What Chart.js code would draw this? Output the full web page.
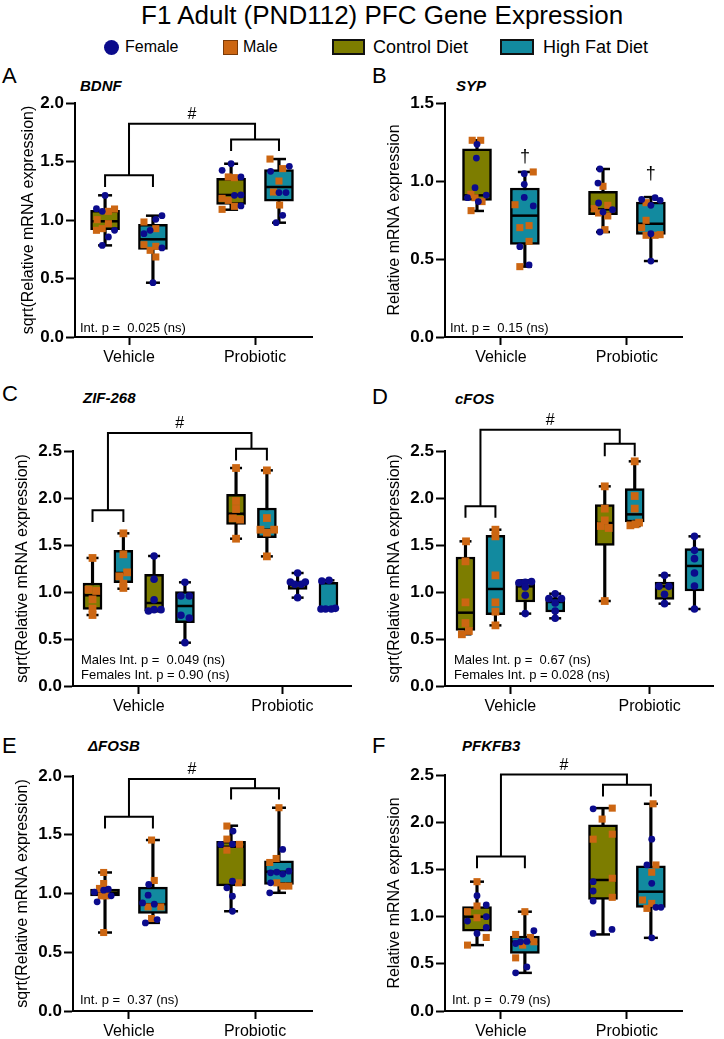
<!DOCTYPE html>
<html>
<head>
<meta charset="utf-8">
<script src="https://cdn.jsdelivr.net/npm/chart.js@4.4.0/dist/chart.umd.min.js"></script>
<style>
  body { margin: 0; width: 724px; height: 1039px; background: #fff; position: relative; overflow: hidden;
         font-family: "Liberation Sans", Arial, sans-serif; color: #000; }
  .abs { position: absolute; white-space: nowrap; line-height: 1; transform: translateY(-50%); }
  .panel { position: absolute; }
  .letter { font-size: 22px; }
  .gene { font-size: 15px; font-weight: bold; font-style: italic; }
  .sw { position: absolute; box-sizing: border-box; }
</style>
</head>
<body>
<div class="abs" style="left:141px;top:15px;font-size:26px;">F1 Adult (PND112) PFC Gene Expression</div>

<div class="sw" style="left:104px;top:40px;width:15px;height:15px;border-radius:50%;background:#0b0b8c;"></div>
<div class="abs" style="left:125px;top:47px;font-size:16px;">Female</div>
<div class="sw" style="left:223px;top:40px;width:15px;height:15px;background:#cc6612;border:1px solid #7a3a08;"></div>
<div class="abs" style="left:243px;top:47px;font-size:16px;">Male</div>
<div class="sw" style="left:332px;top:39px;width:33px;height:16px;background:#7d7d00;border:2px solid #111;"></div>
<div class="abs" style="left:373px;top:47px;font-size:18px;">Control Diet</div>
<div class="sw" style="left:500px;top:39px;width:34px;height:16px;background:#128a9f;border:2px solid #111;"></div>
<div class="abs" style="left:543px;top:47px;font-size:18px;">High Fat Diet</div>

<div class="abs letter" style="left:2px;top:76px;">A</div>
<div class="abs gene" style="left:80px;top:85px;">BDNF</div>
<div class="abs letter" style="left:372px;top:76px;">B</div>
<div class="abs gene" style="left:456px;top:85px;">SYP</div>
<div class="abs letter" style="left:2px;top:394px;">C</div>
<div class="abs gene" style="left:83px;top:397px;">ZIF-268</div>
<div class="abs letter" style="left:372px;top:397px;">D</div>
<div class="abs gene" style="left:455px;top:398px;">cFOS</div>
<div class="abs letter" style="left:2px;top:746px;">E</div>
<div class="abs gene" style="left:88px;top:745px;">ΔFOSB</div>
<div class="abs letter" style="left:372px;top:746px;">F</div>
<div class="abs gene" style="left:462px;top:745px;">PFKFB3</div>

<div class="panel" style="left:0px;top:60px;width:362px;height:320px;"><canvas id="cA"></canvas></div>
<div class="panel" style="left:362px;top:60px;width:362px;height:320px;"><canvas id="cB"></canvas></div>
<div class="panel" style="left:0px;top:380px;width:362px;height:340px;"><canvas id="cC"></canvas></div>
<div class="panel" style="left:362px;top:380px;width:362px;height:340px;"><canvas id="cD"></canvas></div>
<div class="panel" style="left:0px;top:720px;width:362px;height:319px;"><canvas id="cE"></canvas></div>
<div class="panel" style="left:362px;top:720px;width:362px;height:319px;"><canvas id="cF"></canvas></div>

<script>
const groups = ['Vehicle', 'Probiotic'];

// box stats per box: [min, q1, median, q3, max]
// box order (A,B,E,F): Veh control, Veh HFD, Pro control, Pro HFD
// box order (C,D): Veh ctrl M, Veh HFD M, Veh ctrl F, Veh HFD F, then same for Probiotic

// A - BDNF
const bdnfBox = [[0.783,0.917,0.989,1.083,1.211],[0.464,0.749,0.835,0.963,1.037],[1.088,1.134,1.214,1.356,1.481],[0.977,1.160,1.282,1.430,1.521]];
const bdnfVals = [
  [1.21,1.097,1.074,1.074,1.094,1.003,0.969,0.912,0.926,0.912,0.855,0.783],
  [1.037,1.006,0.983,0.912,0.926,0.883,0.789,0.775,0.741,0.761,0.684,0.464],
  [1.481,1.425,1.368,1.362,1.368,1.185,1.168,1.211,1.214,1.117,1.12,1.091],
  [1.521,1.416,1.439,1.459,1.333,1.239,1.234,1.234,1.128,1.04,0.977]];
const bdnfSex = ['FFFMMMMMMFFF','FFMFMFMMMFMF','FFMMFMMFFMFM','MFMFMMFFMFF'];
const bdnfJit = [
  [0,-0.7,-0.23,0.27,0.77,-0.64,0.27,-0.7,-0.23,0.77,0.27,-0.23],
  [0.73,0.23,-0.73,-0.23,0.23,-0.73,-0.73,0.23,-0.23,0.73,0.23,0],
  [0,-0.73,-0.23,0.27,0.8,-0.73,-0.23,0.27,0.8,0.27,0.8,-0.73],
  [-0.73,-0.68,0.3,0.84,0,-0.45,0,0.57,0.05,0.3,-0.23]];

// B - SYP
const sypBox = [[0.808,0.876,0.908,1.207,1.261],[0.451,0.594,0.778,0.955,1.058],[0.673,0.784,0.818,0.934,1.077],[0.487,0.658,0.726,0.865,0.897]];
const sypVals = [
  [1.261,1.261,1.235,1.147,0.957,0.915,0.893,0.893,0.91,0.868,0.868,0.81],
  [1.058,1.047,0.979,0.895,0.848,0.84,0.701,0.714,0.613,0.579,0.462,0.451],
  [1.077,0.987,0.966,0.859,0.844,0.823,0.801,0.795,0.816,0.776,0.688,0.673],
  [0.882,0.893,0.876,0.861,0.844,0.748,0.701,0.662,0.652,0.652,0.656,0.487]];
const sypSex = ['MMFFFMFMFFMM','MFFFMFMMMFFM','FFMFMMFMFMMF','FFFMFMMFMMMF'];
const sypJit = [
  [-0.39,0.3,0,-0.05,-0.16,-0.5,-0.77,-0.16,0.75,0.11,0.41,-0.48],
  [0.68,-0.05,-0.05,-0.05,-0.8,0.68,-0.41,0.34,0.34,-0.41,0.34,-0.41],
  [-0.25,-0.41,0,-0.36,0.39,-0.7,0,-0.36,0.77,0.39,0.16,-0.25],
  [-0.75,0.34,0.75,-0.39,0,-0.39,-0.75,0,-0.39,0.34,0.75,0]];
const sypDagger = [null, 1.154, null, 1.047];

// C - ZIF-268
const zifBox = [[0.755,0.816,0.965,1.096,1.362],[1.035,1.099,1.202,1.443,1.624],[0.795,0.795,0.883,1.188,1.383],[0.461,0.674,0.851,1.004,1.103],
                [1.567,1.72,1.833,2.039,2.319],[1.379,1.578,1.663,1.894,2.294],[0.94,1.028,1.078,1.113,1.202],[0.819,0.823,0.823,1.103,1.124]];
const zifVals = [
  [1.362,1.025,1.011,0.922,0.823,0.755],[1.624,1.401,1.209,1.167,1.089,1.043],
  [1.383,1.135,0.918,0.798,0.812,0.812],[1.103,0.957,0.957,0.752,0.723,0.461],
  [2.319,1.968,1.883,1.784,1.77,1.567],[2.294,1.787,1.663,1.663,1.631,1.379],
  [1.202,1.106,1.082,1.082,1.106,0.94],[1.117,1.124,0.819,0.819,0.819,0.826]];
const zifSex = ['MMMMMM','MMMMMM','FFFFFF','FFFFFF','MMMMMM','MMMMMM','FFFFFF','FFFFFF'];
const zifJit = [[0,-0.5,0.46,0,0,0],[0,0,0.46,-0.5,0,0],[0,0,0,-0.7,0,0.86],[0,-0.5,0.54,-0.5,0.54,0],
                [0,0,0,-0.4,0.5,0],[0,0,-0.8,0.9,0,0],[0,-0.9,-0.36,0.46,0.96,0],[-0.82,0.07,-0.93,-0.36,0.36,0.86]];

// D - cFOS
const cfosBox = [[0.55,0.592,0.78,1.372,1.539],[0.645,0.759,1.032,1.603,1.663],[0.77,0.894,1.06,1.106,1.124],[0.72,0.787,0.894,0.94,0.982],
                 [0.904,1.496,1.734,1.929,2.124],[1.702,1.745,1.826,2.099,2.39],[0.876,0.922,1.06,1.106,1.177],[0.819,1.011,1.277,1.461,1.592]];
const cfosVals = [
  [1.539,1.326,0.89,0.67,0.585,0.55],[1.663,1.592,1.177,0.89,0.791,0.645],
  [1.099,1.11,1.103,1.053,0.965,0.77],[0.982,0.929,0.929,0.883,0.798,0.72],
  [2.124,1.887,1.762,1.702,1.681,0.904],[2.39,2.021,1.887,1.709,1.738,1.72],
  [1.177,1.06,1.06,0.975,0.876],[1.592,1.443,1.355,1.202,1.064,0.819]];
const cfosSex = ['MMMMMM','MMMMMM','FFFFFF','FFFFFF','MMMMMM','MMMMMM','FFFFF','FFFFFF'];
const cfosJit = [[0.07,0,0,0,0.43,-0.46],[0,0,0,0,0,0],[-0.8,0.8,0,0,0,0],[0,-0.8,0.8,0,0,0],
                 [0,0,0,-0.5,0.5,0],[0,0,0,-0.55,0.55,0.1],[0,-0.7,0.55,0,0],[0,0,0,0,0,0]];

// E - deltaFOSB
const fosbBox = [[0.668,0.98,1.006,1.037,1.179],[0.75,0.83,0.909,1.054,1.455],[0.849,1.065,1.398,1.443,1.577],[1.006,1.077,1.185,1.278,1.73]];
const fosbVals = [
  [1.179,1.085,1.043,1.011,1.028,1.037,0.929,0.98,0.98,0.98,0.668],
  [1.455,1.111,1.077,0.986,0.92,0.909,0.886,0.886,0.787,0.778,0.75],
  [1.574,1.531,1.463,1.418,1.369,1.418,1.42,1.105,1.091,1.048,0.977,0.849],
  [1.73,1.375,1.298,1.264,1.176,1.182,1.165,1.19,1.091,1.091,1.063,1.063,1.006]];
const fosbSex = ['MMMFFFFMMFM','MMFFFFMMMFF','MFMFMMFFMFFF','MFMMFFFFFMMMF'];
const fosbJit = [
  [-0.11,-0.11,-0.45,-0.86,-0.11,0.27,-0.64,-0.3,0.09,0.5,-0.11],
  [-0.11,0.11,-0.34,-0.39,-0.84,0.11,-0.39,0.64,-0.11,0.34,-0.61],
  [-0.34,0.16,-0.34,-0.84,-0.34,0.68,0.11,0.11,0.61,-0.34,0.11,0.11],
  [0,0.3,-0.23,-0.75,-0.68,-0.18,0.3,0.8,-0.68,-0.18,0.3,0.8,-0.75]];

// F - PFKFB3
const pfkBox = [[0.698,0.846,0.999,1.105,1.37],[0.404,0.609,0.733,0.793,1.052],[0.811,1.183,1.388,1.972,2.149],[0.775,1.098,1.264,1.537,2.195]];
const pfkVals = [
  [1.37,1.222,1.112,1.123,1.052,0.988,0.999,0.953,0.885,0.822,0.779,0.698],
  [1.052,0.85,0.811,0.779,0.715,0.733,0.737,0.698,0.733,0.563,0.467,0.404],
  [2.142,2.149,2.033,1.873,1.82,1.37,1.406,1.271,1.165,1.204,0.864,0.822],
  [2.195,1.82,1.547,1.547,1.47,1.353,1.176,1.14,1.087,1.098,1.098,0.775]];
const pfkSex = ['MFMFMMFFFFMM','MFMMFFFMMMFF','FMMMMFMFFMFF','MFFMMFMMMFFF'];
const pfkJit = [
  [0,0,0,0.75,-0.77,0,0.75,-0.77,0.75,0,0.75,-0.77],
  [0,0.73,-0.75,0.45,-0.75,-0.36,0.16,-0.18,0.73,-0.75,0.16,-0.75],
  [-0.8,0.75,-0.07,0.75,-0.8,-0.8,0.75,-0.8,-0.8,0.75,0.73,-0.8],
  [0.18,0.07,-0.32,0.41,0.07,0.07,-0.68,0.07,-0.32,0.41,0.82,0.07]];

// significance brackets: [box i, box j, bar y, leg y], then top y
const bdnfBrk = [[0,1,1.382,1.282],[2,3,1.689,1.59]], bdnfTop = 1.823;
const zifBrk = [[0,1,1.869,1.745],[4,5,2.525,2.40]], zifTop = 2.691;
const cfosBrk = [[0,1,1.911,1.791],[4,5,2.578,2.443]], cfosTop = 2.727;
const fosbBrk = [[0,1,1.653,1.554],[2,3,1.895,1.801]], fosbTop = 1.974;
const pfkBrk = [[0,1,1.636,1.512],[2,3,2.397,2.273]], pfkTop = 2.504;

const ctrlColor = '#7d7d00', hfdColor = '#128a9f', femColor = '#0b0b8c', maleColor = '#cc6612';
const pos2 = [-0.19, 0.19, 0.81, 1.19];
const pos4 = [-0.322, -0.107, 0.107, 0.322, 0.678, 0.893, 1.107, 1.322];

Chart.defaults.font.family = '"Liberation Sans", Arial, sans-serif';
Chart.defaults.color = '#000';

const annot = {
  id: 'annot',
  afterDraw(chart, args, o) {
    const {ctx, chartArea} = chart;
    const xs = chart.scales.x, ys = chart.scales.y;
    const px = v => xs.getPixelForValue(v), py = v => ys.getPixelForValue(v);
    ctx.save();
    ctx.strokeStyle = '#000'; ctx.fillStyle = '#000'; ctx.lineWidth = 2;
    ctx.lineJoin = 'miter'; ctx.lineCap = 'butt';
    if (o.brk) {
      const mids = [];
      o.brk.forEach(b => {
        const a = o.pos[b[0]], c = o.pos[b[1]];
        ctx.beginPath();
        ctx.moveTo(px(a), py(b[3])); ctx.lineTo(px(a), py(b[2]));
        ctx.lineTo(px(c), py(b[2])); ctx.lineTo(px(c), py(b[3]));
        ctx.stroke();
        mids.push([(a + c) / 2, b[2]]);
      });
      ctx.beginPath();
      ctx.moveTo(px(mids[0][0]), py(mids[0][1])); ctx.lineTo(px(mids[0][0]), py(o.top));
      ctx.lineTo(px(mids[1][0]), py(o.top)); ctx.lineTo(px(mids[1][0]), py(mids[1][1]));
      ctx.stroke();
      ctx.font = '16px "Liberation Sans", Arial, sans-serif';
      ctx.textAlign = 'center'; ctx.textBaseline = 'middle';
      ctx.fillText('#', (px(mids[0][0]) + px(mids[1][0])) / 2, py(o.top) - 9);
    }
    if (o.dagger) {
      ctx.font = '18px "Liberation Sans", Arial, sans-serif';
      ctx.textAlign = 'center'; ctx.textBaseline = 'middle';
      o.dagger.forEach((d, i) => { if (d != null) ctx.fillText('†', px(o.pos[i]), py(d)); });
    }
    ctx.font = '13px "Liberation Sans", Arial, sans-serif';
    ctx.textAlign = 'left'; ctx.textBaseline = 'middle';
    o.stats.forEach((s, i) => {
      ctx.fillText(s, chartArea.left + o.sx, chartArea.bottom - o.sy - (o.stats.length - 1 - i) * 15);
    });
    ctx.restore();
  }
};

function makePanel(id, cfg) {
  const [cl, ct, cw, ch] = cfg.canvas;
  const [pl, pt, pr, pb] = cfg.plot;
  const pxPerUnit = (pr - pl) / (cfg.xmax - cfg.xmin);
  const half = cfg.bw / 2 / pxPerUnit;
  const pos = cfg.pos;
  const boxColors = pos.map((p, i) => i % 2 === 0 ? ctrlColor : hfdColor);
  const caps = [], meds = [], fem = [], male = [];
  cfg.box.forEach((b, i) => {
    caps.push({x: pos[i], y: b[0]}, {x: pos[i], y: b[4]});
    meds.push({x: pos[i], y: b[2]});
    cfg.vals[i].forEach((v, k) => {
      const pt = {x: pos[i] + cfg.jit[i][k] * half * 0.85, y: v};
      (cfg.sex[i][k] === 'F' ? fem : male).push(pt);
    });
  });
  new Chart(document.getElementById(id), {
    type: 'bar',
    data: {
      datasets: [
        {type: 'bar', data: cfg.box.map((b, i) => ({x: pos[i], y: [b[0], b[4]]})), backgroundColor: '#000',
         barThickness: 2.5, grouped: false, order: 5, clip: false},
        {type: 'bar', data: cfg.box.map((b, i) => ({x: pos[i], y: [b[1], b[3]]})), backgroundColor: boxColors,
         borderColor: '#000', borderWidth: 2.5, borderSkipped: false, barThickness: cfg.bw, grouped: false, order: 4, clip: false},
        {type: 'scatter', data: caps, pointStyle: 'line', pointRadius: cfg.cap, borderColor: '#000', borderWidth: 2.5, order: 3, clip: false},
        {type: 'scatter', data: meds, pointStyle: 'line', pointRadius: cfg.bw / 2 - 1, borderColor: '#000', borderWidth: 2.5, order: 2, clip: false},
        {type: 'scatter', data: male, pointStyle: 'rect', pointRadius: cfg.ms, backgroundColor: maleColor, borderWidth: 0, order: 1, clip: false},
        {type: 'scatter', data: fem, pointStyle: 'circle', pointRadius: cfg.fs, backgroundColor: femColor, borderWidth: 0, order: 0, clip: false}
      ]
    },
    options: {
      responsive: true, maintainAspectRatio: false, animation: false, events: [],
      layout: {padding: {left: 0, top: pt - ct, right: cl + cw - pr, bottom: 0}},
      plugins: {legend: {display: false}, tooltip: {enabled: false},
        annot: {pos: pos, brk: cfg.brk, top: cfg.top, dagger: cfg.dagger, stats: cfg.stats, sx: cfg.sx, sy: cfg.sy}},
      scales: {
        x: {
          type: 'linear', min: cfg.xmin, max: cfg.xmax, offset: false,
          afterBuildTicks: s => { s.ticks = [{value: 0}, {value: 1}]; },
          afterFit: s => { s.height = ct + ch - pb; },
          ticks: {callback: (v, i) => groups[i], font: {size: 16}, color: '#000', padding: 3, autoSkip: false, maxRotation: 0},
          grid: {offset: false, drawOnChartArea: false, drawTicks: true, tickLength: 8, tickWidth: 2, tickColor: '#000'},
          border: {color: '#000', width: 2}
        },
        y: {
          min: 0, max: cfg.ymax,
          afterFit: s => { s.width = pl - cl; },
          ticks: {stepSize: 0.5, callback: v => v.toFixed(1), font: {size: 17, weight: 'bold'}, color: '#000', padding: 2},
          grid: {drawOnChartArea: false, drawTicks: true, tickLength: 9, tickWidth: 2, tickColor: '#000'},
          border: {color: '#000', width: 2},
          title: {display: true, text: cfg.ytitle, font: {size: 16}, color: '#000', padding: {top: cfg.tpad, bottom: 0}}
        }
      }
    },
    plugins: [annot]
  });
}

const sqrtTitle = 'sqrt(Relative mRNA expression)', relTitle = 'Relative mRNA expression';

makePanel('cA', {canvas: [0, 60, 362, 320], plot: [75, 103, 312, 337], xmin: -0.4286, xmax: 1.452, ymax: 2,
  box: bdnfBox, vals: bdnfVals, sex: bdnfSex, jit: bdnfJit, pos: pos2, bw: 29, cap: 7, ms: 5, fs: 3.4,
  brk: bdnfBrk, top: bdnfTop, stats: ['Int. p =  0.025 (ns)'], sx: 5, sy: 9, ytitle: sqrtTitle, tpad: 19});
makePanel('cB', {canvas: [362, 60, 362, 320], plot: [445, 103, 682, 337], xmin: -0.444, xmax: 1.437, ymax: 1.5,
  box: sypBox, vals: sypVals, sex: sypSex, jit: sypJit, pos: pos2, bw: 29, cap: 7, ms: 5, fs: 3.4,
  dagger: sypDagger, stats: ['Int. p =  0.15 (ns)'], sx: 5, sy: 9, ytitle: relTitle, tpad: 23});
makePanel('cC', {canvas: [0, 380, 362, 340], plot: [73, 451, 352, 686], xmin: -0.458, xmax: 1.479, ymax: 2.5,
  box: zifBox, vals: zifVals, sex: zifSex, jit: zifJit, pos: pos4, bw: 19, cap: 6, ms: 5.5, fs: 3.8,
  brk: zifBrk, top: zifTop, stats: ['Males Int. p =  0.049 (ns)', 'Females Int. p = 0.90 (ns)'], sx: 8, sy: 11, ytitle: sqrtTitle, tpad: 13});
makePanel('cD', {canvas: [362, 380, 362, 340], plot: [445, 451, 720, 686], xmin: -0.469, xmax: 1.455, ymax: 2.5,
  box: cfosBox, vals: cfosVals, sex: cfosSex, jit: cfosJit, pos: pos4, bw: 19, cap: 6, ms: 5.5, fs: 3.8,
  brk: cfosBrk, top: cfosTop, stats: ['Males Int. p =  0.67 (ns)', 'Females Int. p = 0.028 (ns)'], sx: 9, sy: 11, ytitle: sqrtTitle, tpad: 23});
makePanel('cE', {canvas: [0, 720, 362, 319], plot: [73, 776, 312, 1011], xmin: -0.444, xmax: 1.452, ymax: 2,
  box: fosbBox, vals: fosbVals, sex: fosbSex, jit: fosbJit, pos: pos2, bw: 29, cap: 7, ms: 5, fs: 3.4,
  brk: fosbBrk, top: fosbTop, stats: ['Int. p =  0.37 (ns)'], sx: 7, sy: 11, ytitle: sqrtTitle, tpad: 13});
makePanel('cF', {canvas: [362, 720, 362, 319], plot: [445, 775, 682, 1011], xmin: -0.444, xmax: 1.437, ymax: 2.5,
  box: pfkBox, vals: pfkVals, sex: pfkSex, jit: pfkJit, pos: pos2, bw: 29, cap: 7, ms: 5, fs: 3.4,
  brk: pfkBrk, top: pfkTop, stats: ['Int. p =  0.79 (ns)'], sx: 7, sy: 11, ytitle: relTitle, tpad: 23});
</script>
</body>
</html>
